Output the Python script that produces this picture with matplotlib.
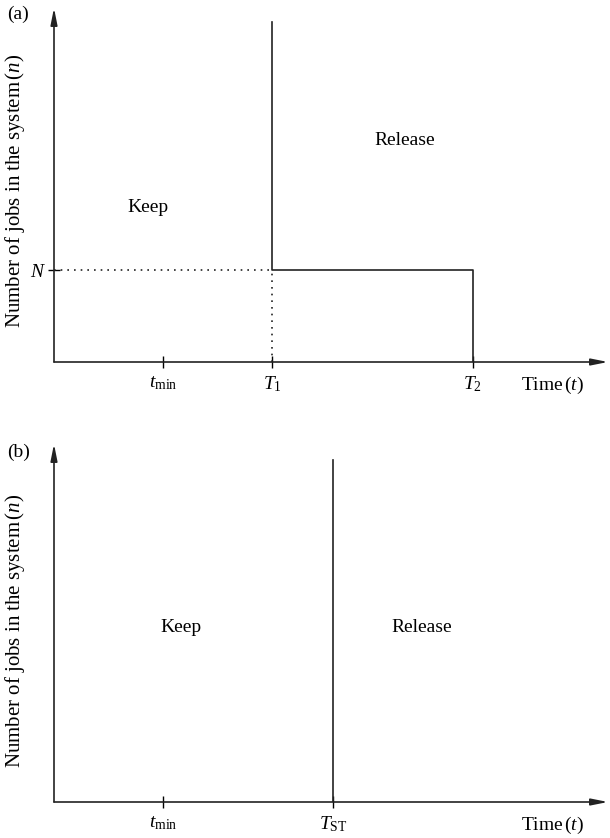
import matplotlib
matplotlib.use('Agg')
import matplotlib.pyplot as plt

plt.rcParams['font.family'] = ['Liberation Serif', 'DejaVu Serif']
plt.rcParams['mathtext.fontset'] = 'custom'
plt.rcParams['mathtext.rm'] = 'Liberation Serif'
plt.rcParams['mathtext.it'] = 'Liberation Serif:italic'

# panel (a): threshold policy with a job-count boundary
a_ticks = [1.0, 2.0, 3.84]
a_tick_labels = [r'$t_{\mathrm{min}}$', r'$T_1$', r'$T_2$']
a_N = 1.0
a_boundary_x = [2.0, 2.0, 3.84, 3.84]
a_boundary_y = [3.7, 1.0, 1.0, 0.0]

# panel (b): single switching time
b_ticks = [1.0, 2.56]
b_tick_labels = [r'$t_{\mathrm{min}}$', r'$T_{\mathrm{ST}}$']
b_line_x = [2.56, 2.56]
b_line_y = [0.0, 3.13]

W, H = 610, 838
fig = plt.figure(figsize=(W / 100, H / 100), dpi=100)

FS = 14
TICK_FS = 14
ylabel = r'Number of jobs in the system$\,(n)$'
xlabel = r'Time$\,(t)$'


def draw_axes(ax, xmax, ymax):
    ax.set_xlim(0, xmax)
    ax.set_ylim(0, ymax)
    for s in ax.spines.values():
        s.set_visible(False)
    arrow = dict(arrowstyle='-|>,head_length=1.0,head_width=0.2', color='#222222',
                 lw=1.2, shrinkA=0, shrinkB=0)
    ax.annotate('', xy=(1, 0), xytext=(0, 0), xycoords='axes fraction', arrowprops=arrow)
    ax.annotate('', xy=(0, 1), xytext=(0, 0), xycoords='axes fraction', arrowprops=arrow)
    ax.tick_params(axis='both', direction='inout', length=9, width=1, labelsize=TICK_FS, pad=4)
    ax.tick_params(axis='y', pad=1)


# (a)
ax1 = fig.add_axes([54 / W, (H - 362) / H, 554 / W, 354 / H])
draw_axes(ax1, 5.08, 3.85)
ax1.set_xticks(a_ticks)
ax1.set_xticklabels(a_tick_labels)
ax1.set_yticks([a_N])
ax1.set_yticklabels([r'$N$'])
ax1.plot(a_boundary_x, a_boundary_y, color='#222222', lw=1.2)
ax1.plot([0, a_ticks[1]], [a_N, a_N], color='#222222', lw=1.2, ls=(0, (1, 3)))
ax1.plot([a_ticks[1], a_ticks[1]], [0, a_N], color='#222222', lw=1.2, ls=(0, (1, 3)))
ax1.text(0.86, 1.68, 'Keep', fontsize=FS, ha='center', va='center')
ax1.text(3.22, 2.41, 'Release', fontsize=FS, ha='center', va='center')
fig.text(553 / W, 1 - 385 / H, xlabel, fontsize=FS, ha='center', va='center')
fig.text(15 / W, 1 - 191 / H, ylabel, fontsize=15, ha='center', va='center', rotation=90)
fig.text(7 / W, 1 - 14 / H, '(a)', fontsize=FS, ha='left', va='center')

# (b)
ax2 = fig.add_axes([54 / W, (H - 802) / H, 554 / W, 358 / H])
draw_axes(ax2, 5.08, 3.28)
ax2.set_xticks(b_ticks)
ax2.set_xticklabels(b_tick_labels)
ax2.set_yticks([])
ax2.plot(b_line_x, b_line_y, color='#222222', lw=1.2)
ax2.text(1.16, 1.6, 'Keep', fontsize=FS, ha='center', va='center')
ax2.text(3.37, 1.6, 'Release', fontsize=FS, ha='center', va='center')
fig.text(553 / W, 1 - 825 / H, xlabel, fontsize=FS, ha='center', va='center')
fig.text(15 / W, 1 - 631 / H, ylabel, fontsize=15, ha='center', va='center', rotation=90)
fig.text(7 / W, 1 - 452 / H, '(b)', fontsize=FS, ha='left', va='center')

fig.savefig('out.png', dpi=100)
